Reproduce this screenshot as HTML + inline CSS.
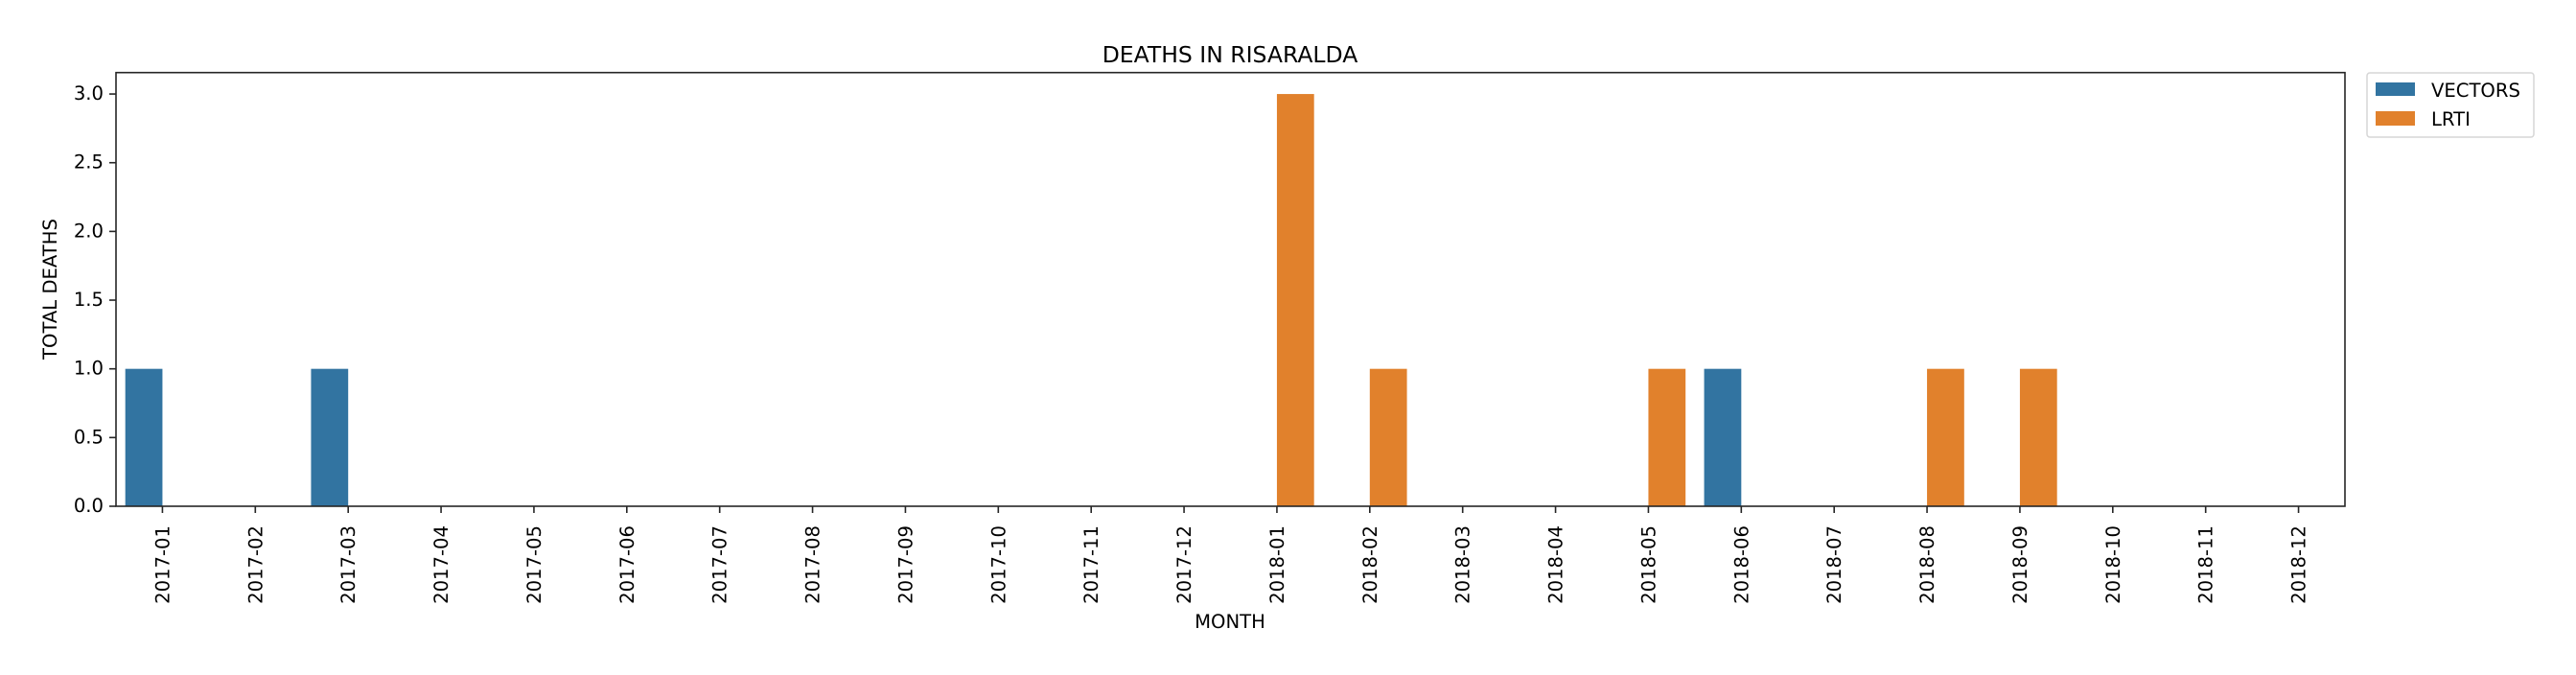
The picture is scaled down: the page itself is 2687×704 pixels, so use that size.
<!DOCTYPE html>
<html><head><meta charset="utf-8"><style>
html,body{margin:0;padding:0;background:#fff;}
svg{display:block;font-family:"DejaVu Sans","Liberation Sans",sans-serif;}
</style></head><body>
<svg id="chart" width="2687" height="704" viewBox="0 0 2687 704">
<text x="1283" y="65" font-size="23.5" text-anchor="middle" fill="#000">DEATHS IN RISARALDA</text>
<g id="bars"></g>
<g id="axes"></g>
<text x="1283" y="655" font-size="19.6" text-anchor="middle">MONTH</text>
<text transform="translate(59,301.5) rotate(-90)" font-size="19.6" text-anchor="middle">TOTAL DEATHS</text>
<g>
<rect x="2469" y="76" width="174" height="67" rx="3" fill="#fff" stroke="#d6d6d6" stroke-width="1.5"/>
<rect x="2478" y="86" width="41" height="14" fill="#3274a1"/>
<text x="2536" y="101" font-size="19.6">VECTORS</text>
<rect x="2478" y="116" width="41" height="15" fill="#e1812c"/>
<text x="2536" y="131" font-size="19.6">LRTI</text>
</g>
</svg>
<script>
const categories = ["2017-01","2017-02","2017-03","2017-04","2017-05","2017-06","2017-07","2017-08","2017-09","2017-10","2017-11","2017-12","2018-01","2018-02","2018-03","2018-04","2018-05","2018-06","2018-07","2018-08","2018-09","2018-10","2018-11","2018-12"];
const vectorsValues = [1,0,1,0,0,0,0,0,0,0,0,0,0,0,0,0,0,1,0,0,0,0,0,0];
const lrtiValues = [0,0,0,0,0,0,0,0,0,0,0,0,3,1,0,0,1,0,0,1,1,0,0,0];
const yTicks = [0,0.5,1,1.5,2,2.5,3];
const yTickLabels = ["0.0","0.5","1.0","1.5","2.0","2.5","3.0"];

const NS="http://www.w3.org/2000/svg";
const L=121,R=2446,T=75.7,B=528,YMAX=3.156;
const bw=(R-L)/categories.length;
function xC(i){return L+bw*(i+0.5);}
function yS(v){return B-(B-T)*v/YMAX;}
function mk(tag,attrs,parent){const e=document.createElementNS(NS,tag);for(const k in attrs)e.setAttribute(k,attrs[k]);parent.appendChild(e);return e;}
const bars=document.getElementById('bars'),axes=document.getElementById('axes');
const series=[[vectorsValues,"#3274a1",-0.4,"vectors"],[lrtiValues,"#e1812c",0,"lrti"]];
series.forEach(s=>{
  s[0].forEach((v,i)=>{
    const r=mk('rect',{x:xC(i)+s[2]*bw,y:yS(v),width:0.4*bw,height:B-yS(v),fill:s[1]},bars);
    
    
  });
});
const frame=mk('rect',{x:L,y:T,width:R-L,height:B-T,fill:"none",stroke:"#262626","stroke-width":1.6},axes);


yTicks.forEach((v,i)=>{
  const y=yS(v);
  const t=mk('line',{x1:L-7,x2:L,y1:y,y2:y,stroke:"#262626","stroke-width":1.6},axes);
  
  
  const tx=mk('text',{x:L-13,y:y+6,"font-size":19.6,"text-anchor":"end"},axes);
  tx.textContent=yTickLabels[i];
  
  
});
categories.forEach((c,i)=>{
  const x=xC(i);
  const t=mk('line',{x1:x,x2:x,y1:B,y2:B+7,stroke:"#262626","stroke-width":1.6},axes);
  
  
  const tx=mk('text',{transform:`translate(${x+7},${B+20}) rotate(-90)`,"font-size":19.6,"text-anchor":"end"},axes);
  tx.textContent=c;
  
  
});
</script>
</body></html>
